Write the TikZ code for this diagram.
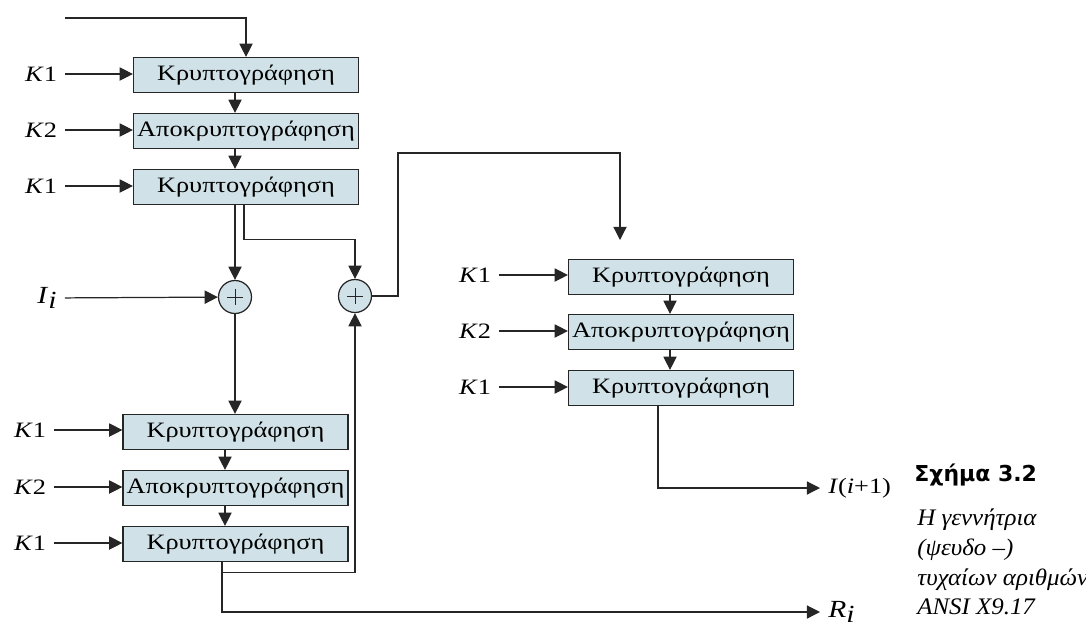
\documentclass[tikz,border=0pt]{standalone}
\usepackage{fontspec}
\setmainfont[FakeStretch=1.2]{Liberation Serif}
\newfontfamily\capfont{DejaVu Sans}
\newfontfamily\capitfont[FakeStretch=1.05]{Liberation Serif}
\usepackage{tikz}
\usetikzlibrary{arrows.meta,calc,positioning}
\definecolor{BoxBlue}{HTML}{D0E2E7}
\definecolor{LineGray}{HTML}{262626}

\begin{document}
\begin{tikzpicture}[
      x=0.02cm, y=-0.02cm,
      font=\fontsize{12.5}{15}\selectfont,
      box/.style={rectangle, draw=LineGray, line width=0.7pt,
                  fill=BoxBlue, align=center, inner sep=0pt,
                  minimum width=4.5cm, minimum height=0.7cm},
      xorc/.style={circle, draw=LineGray, line width=0.7pt,
                   fill=BoxBlue, minimum size=0.66cm, inner sep=0pt},
      lbl/.style={inner xsep=4.5pt, inner ysep=2pt},
      capline/.style={anchor=base west, inner sep=0pt,
                      font=\capitfont\itshape\fontsize{13.5}{16}\selectfont},
      arr/.style={-{Triangle[length=7.5pt,width=7.5pt]},
                  line width=0.7pt, draw=LineGray},
      plus/.style={LineGray, line width=0.5pt},
    ]
      \useasboundingbox (0,0) rectangle (1086,627);

      % first triple
      \node[box] (a1) at (246,75)  {Κρυπτογράφηση};
      \node[box] (a2) at (246,131) {Αποκρυπτογράφηση};
      \node[box] (a3) at (246,187) {Κρυπτογράφηση};
      \node[lbl] (ka1) at (41,74)  {\textit{K}1};
      \node[lbl] (ka2) at (41,130) {\textit{K}2};
      \node[lbl] (ka3) at (41,186) {\textit{K}1};

      % xor nodes
      \node[xorc] (x1) at (235,297) {};
      \node[xorc] (x2) at (355,296) {};
      \draw[plus] ($(x1)+(-8,0)$) -- ($(x1)+(8,0)$) ($(x1)+(0,-8)$) -- ($(x1)+(0,8)$);
      \draw[plus] ($(x2)+(-8,0)$) -- ($(x2)+(8,0)$) ($(x2)+(0,-8)$) -- ($(x2)+(0,8)$);
      \node[lbl, font=\fontsize{14}{16}\selectfont] (ii) at (47,298)
           {\textit{I}\raisebox{-0.45ex}{\textit{i}}};

      % second triple
      \node[box] (b1) at (235.5,432) {Κρυπτογράφηση};
      \node[box] (b2) at (235.5,488) {Αποκρυπτογράφηση};
      \node[box] (b3) at (235.5,544) {Κρυπτογράφηση};
      \node[lbl] (kb1) at (30,430) {\textit{K}1};
      \node[lbl] (kb2) at (30,487) {\textit{K}2};
      \node[lbl] (kb3) at (30,543) {\textit{K}1};

      % third triple
      \node[box] (c1) at (681,277) {Κρυπτογράφηση};
      \node[box] (c2) at (681,332) {Αποκρυπτογράφηση};
      \node[box] (c3) at (681,388) {Κρυπτογράφηση};
      \node[lbl] (kc1) at (475,275) {\textit{K}1};
      \node[lbl] (kc2) at (475,331) {\textit{K}2};
      \node[lbl] (kc3) at (475,387) {\textit{K}1};

      % outputs
      \node[lbl, anchor=west] (inext) at (820,488) {\textit{I}(\textit{i}+1)};
      \node[lbl, anchor=west, font=\fontsize{14}{16}\selectfont] (ri) at (820,612)
           {\textit{R}\raisebox{-0.45ex}{\textit{i}}};

      % caption
      \node[anchor=base west, inner sep=0pt, font=\capfont\bfseries\fontsize{12.5}{15}\selectfont]
           (cap) at (914,481) {Σχήμα 3.2};
      \node[capline] (cap1) at (917,525) {Η γεννήτρια};
      \node[capline] (cap2) at (917,555) {(ψευδο –)};
      \node[capline] (cap3) at (917,585) {τυχαίων αριθμών};
      \node[capline] (cap4) at (917,614) {ANSI X9.17};

      \coordinate (tin) at (65,18);
      \coordinate (loop) at (398,153);
      \coordinate (cin) at (620,240);

      \draw[arr] (tin) -| (a1.north);
      \draw[arr] (ka1) -- (a1.west |- ka1);
      \draw[arr] (ka2) -- (a2.west |- ka2);
      \draw[arr] (ka3) -- (a3.west |- ka3);
      \draw[arr] ($(a1.south)+(-11,0)$) -- ($(a2.north)+(-11,0)$);
      \draw[arr] ($(a2.south)+(-11,0)$) -- ($(a3.north)+(-11,0)$);
      \draw[arr] (a3.south -| x1) -- (x1);
      \draw[arr] ($(a3.south)+(-2,0)$) -- ++(0,34) -| (x2.north);
      \draw[arr] (ii) -- (x1);
      \draw[arr] (x1) -- (x1 |- b1.north);
      \draw[arr] (x2.east) -- (x2 -| loop) -- (loop) -| (cin);

      \draw[arr] (kb1) -- (b1.west |- kb1);
      \draw[arr] (kb2) -- (b2.west |- kb2);
      \draw[arr] (kb3) -- (b3.west |- kb3);
      \draw[arr] ($(b1.south)+(-10.5,0)$) -- ($(b2.north)+(-10.5,0)$);
      \draw[arr] ($(b2.south)+(-10.5,0)$) -- ($(b3.north)+(-10.5,0)$);
      \draw[arr] ($(b3.south)+(-13.5,0)$) -- ++(0,10) -| (x2.south);
      \draw[arr] ($(b3.south)+(-13.5,0)$) |- (ri.west);

      \draw[arr] (kc1) -- (c1.west |- kc1);
      \draw[arr] (kc2) -- (c2.west |- kc2);
      \draw[arr] (kc3) -- (c3.west |- kc3);
      \draw[arr] ($(c1.south)+(-11,0)$) -- ($(c2.north)+(-11,0)$);
      \draw[arr] ($(c2.south)+(-11,0)$) -- ($(c3.north)+(-11,0)$);
      \draw[arr] ($(c3.south)+(-23,0)$) |- (inext.west);
    \end{tikzpicture}
\end{document}
